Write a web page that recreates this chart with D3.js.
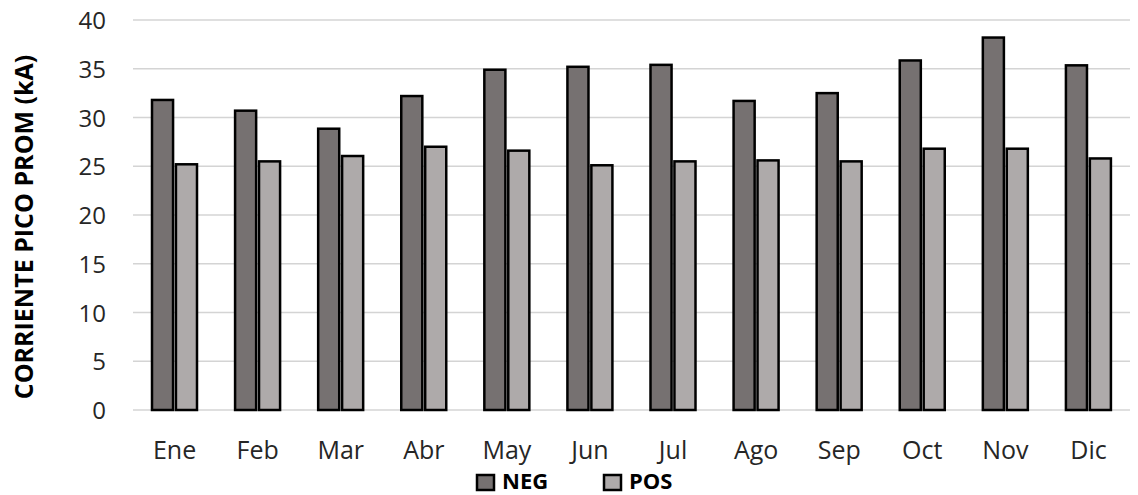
<!DOCTYPE html>
<html><head><meta charset="utf-8">
<script src="https://cdn.jsdelivr.net/npm/d3@7"></script>
<style>html,body{margin:0;padding:0;background:#fff;}</style>
</head><body>
<svg id="c" width="1138" height="495"></svg>
<script>
const months = ["Ene","Feb","Mar","Abr","May","Jun","Jul","Ago","Sep","Oct","Nov","Dic"];
const series = ["NEG","POS"];
const neg = [31.8,30.7,28.85,32.2,34.9,35.2,35.4,31.7,32.5,35.85,38.2,35.35];
const pos = [25.2,25.5,26.05,27.0,26.6,25.1,25.5,25.6,25.5,26.8,26.8,25.8];
const yTicks = [0,5,10,15,20,25,30,35,40];
const colors = {NEG:"#767171", POS:"#aeaaaa"};
const values = {NEG:neg, POS:pos};

(function(){
const svg = d3.select("#c");
const font = "'Open Sans', Calibri, sans-serif";
const pLeft = 133, pRight = 1130, pTop = 20, pBottom = 410;
const y = d3.scaleLinear().domain([0,40]).range([pBottom, pTop]);
const x = d3.scaleBand().domain(months).range([pLeft, pRight]).padding(0);
const x1 = d3.scaleBand().domain(series).range([19, 64]).paddingInner(0.12).paddingOuter(0);

// gridlines
svg.append("g").selectAll("line").data(yTicks).join("line")
  .attr("x1", pLeft).attr("x2", pRight)
  .attr("y1", d => y(d)).attr("y2", d => y(d))
  .attr("stroke", "#d4d4d4").attr("stroke-width", 1.5);

// y axis labels
const yAxis = d3.axisLeft(y).tickValues(yTicks).tickSize(0).tickPadding(0);
const ga = svg.append("g").attr("transform", `translate(106,0)`).call(yAxis);
ga.select(".domain").remove();
ga.selectAll("text").attr("font-family", font).attr("font-size", 24).attr("fill", "#262626").attr("dy","0.36em");

// bars
const groups = svg.append("g").selectAll("g").data(months).join("g")
  .attr("transform", d => `translate(${x(d)},0)`);
groups.selectAll("rect").data((m,i) => series.map(s => ({s, v: values[s][i]}))).join("rect")
  .attr("x", d => x1(d.s)).attr("width", x1.bandwidth())
  .attr("y", d => y(d.v)).attr("height", d => y(0) - y(d.v))
  .attr("fill", d => colors[d.s]).attr("stroke", "#000").attr("stroke-width", 2.5);

// x labels
const xAxis = d3.axisBottom(x).tickSize(0).tickPadding(0);
const gx = svg.append("g").attr("transform", `translate(0,${pBottom})`).call(xAxis);
gx.select(".domain").remove();
gx.selectAll("text").attr("font-family", font).attr("font-size", 25).attr("fill", "#262626")
  .attr("y", 49).attr("dy", 0);

// y title
svg.append("text").attr("transform", "translate(33,227) rotate(-90)")
  .attr("text-anchor", "middle").attr("font-family", font).attr("font-weight", "bold")
  .attr("font-size", 25).attr("fill", "#000").text("CORRIENTE PICO PROM (kA)");

// legend
const legX = [477, 604];
const lg = svg.append("g").selectAll("g").data(series).join("g")
  .attr("transform", (d,i) => `translate(${legX[i]},475)`);
lg.append("rect").attr("width", 17).attr("height", 15)
  .attr("fill", d => colors[d]).attr("stroke", "#000").attr("stroke-width", 2.5);
lg.append("text").attr("x", 25).attr("y", 14)
  .attr("font-family", font).attr("font-weight", "bold").attr("font-size", 22).attr("fill", "#000")
  .text(d => d);
})();
</script>
</body></html>
